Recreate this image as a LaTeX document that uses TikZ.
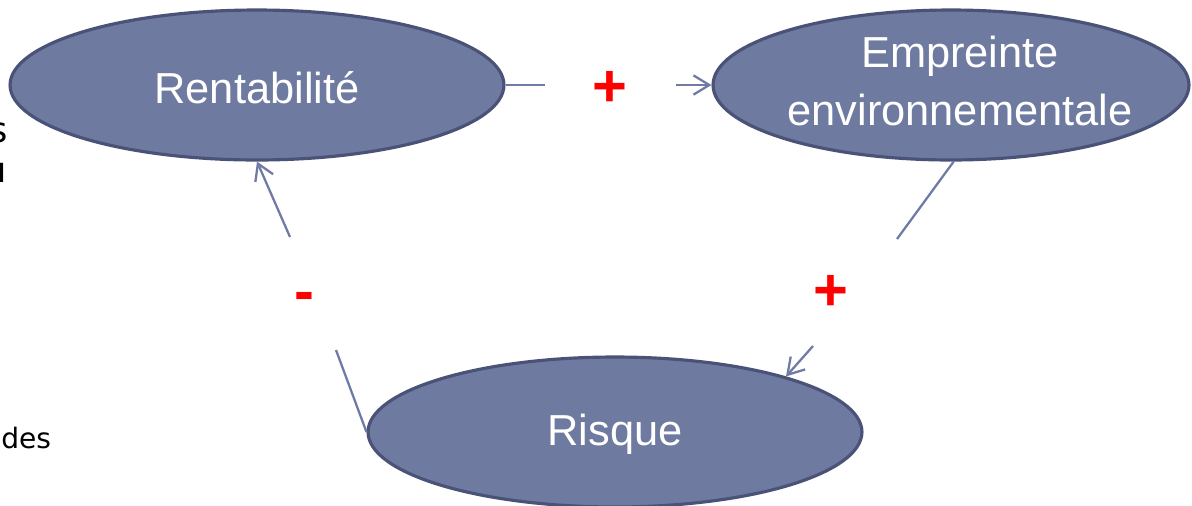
\documentclass[tikz,border=0pt]{standalone}
\usepackage{fontspec}
\setmainfont{Liberation Sans}
\newfontfamily\sidefont{DejaVu Sans}
\usetikzlibrary{arrows.meta,shapes.geometric}
\definecolor{ellfill}{HTML}{6E7AA0}
\definecolor{ellborder}{HTML}{4A5377}
\definecolor{conn}{HTML}{6F7BA5}
\begin{document}
\begin{tikzpicture}[x=0.02cm,y=-0.02cm,
 bubble/.style={ellipse, draw=ellborder, line width=1.8pt, fill=ellfill, inner sep=0pt, minimum height=3cm},
 lbl/.style={text=white, font=\fontsize{24.7}{33}\selectfont, align=center, inner sep=0pt},
 sign/.style={text=red, font=\fontsize{34}{34}\selectfont\bfseries, inner sep=0pt},
 link/.style={draw=conn, line width=1.3pt},
 arr/.style={link, -{Straight Barb[length=9pt,width=11pt,line width=1.3pt]}},
 side/.style={font=\sidefont\fontsize{20}{24}\selectfont, inner sep=0pt},
 sidesmall/.style={font=\sidefont\fontsize{16}{19}\selectfont, inner sep=0pt}]
\useasboundingbox (0,0) rectangle (1192,505);
\clip (0,0) rectangle (1192,505);
% stray background text (cut at the left edge in the reference)
\node[side, anchor=base east] (s1) at (8,142) {s};
\node[side, anchor=base east] (s2) at (7,182) {u};
\node[sidesmall, anchor=base west] (s3) at (1,448) {des};
% bubbles
\node[bubble, minimum width=9.88cm] (rent) at (257,85) {};
\node[bubble, minimum width=9.52cm] (emp) at (951,85) {};
\node[bubble, minimum width=9.88cm] (risk) at (615,432) {};
\node[lbl] (trent) at (257,88) {Rentabilité};
\node[lbl] (temp) at (960,81) {Empreinte\\environnementale};
\node[lbl] (trisk) at (615,434) {Risque};
% signs
\node[sign] (p1) at (610,89) {+};
\node[sign] (m1) at (304,302) {-};
\node[sign] (p2) at (831,293) {+};
% gap coordinates
\coordinate (a1) at (545,85);
\coordinate (a2) at (676,85);
\coordinate (b1) at (897,239);
\coordinate (b2) at (813,346);
\coordinate (c1) at (336,350);
\coordinate (c2) at (290,237);
% connectors
\draw[link] (rent) -- (a1);
\draw[arr] (a2) -- (emp);
\draw[link] (emp.-88) -- (b1);
\draw[arr] (b2) -- (risk.18);
\draw[link] (risk.west) -- (c1);
\draw[arr] (c2) -- (rent.south);
\end{tikzpicture}
\end{document}
